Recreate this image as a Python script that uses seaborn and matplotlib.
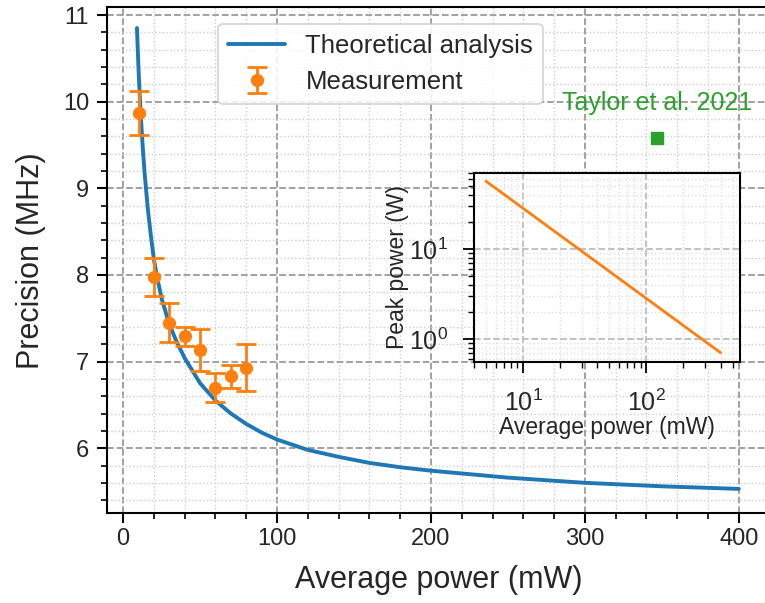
import numpy as np
import pandas as pd
import matplotlib
matplotlib.use("Agg")
import matplotlib.pyplot as plt
from matplotlib.ticker import MultipleLocator
import seaborn as sns

# Theoretical curve
theory_power = [9, 10, 11, 12, 13, 14, 16, 18, 20, 22, 25, 30, 35, 40, 50, 60, 70, 80,
                90, 100, 120, 140, 160, 180, 200, 250, 300, 350, 400]
theory_precision = [10.85, 10.38, 10.00, 9.69, 9.41, 9.17, 8.77, 8.46, 8.18, 7.98, 7.73,
                    7.43, 7.22, 7.04, 6.75, 6.55, 6.40, 6.28, 6.18, 6.10, 5.98, 5.90,
                    5.83, 5.78, 5.74, 5.66, 5.60, 5.56, 5.53]

# Measurements
meas_power = [10, 20, 30, 40, 50, 60, 70, 80]
meas_precision = [9.87, 7.98, 7.45, 7.29, 7.13, 6.70, 6.83, 6.93]
meas_err = [0.25, 0.22, 0.23, 0.11, 0.24, 0.17, 0.13, 0.27]

# Reference point
ref_label = "Taylor et al. 2021"
ref_power = [347]
ref_precision = [9.58]

# Inset: peak vs average power
inset_avg = [5, 10, 50, 100, 400]
inset_peak = [56.8, 28.4, 5.68, 2.84, 0.71]

BLUE = "#1f77b4"
ORANGE = "#ff7f0e"
GREEN = "#2ca02c"


def style_grid(ax, major_color, minor_color):
    ax.grid(True, which="major", linestyle="--", color=major_color, linewidth=1.3)
    ax.grid(True, which="minor", linestyle=":", color=minor_color, linewidth=1.0)
    ax.set_axisbelow(True)


def main():
    sns.set_theme(style="ticks")
    plt.rcParams["font.family"] = ["Liberation Sans", "DejaVu Sans"]

    fig = plt.figure(figsize=(7.65, 6.03), dpi=100)
    ax = fig.add_axes([0.140, 0.149, 0.866, 0.839])

    df = pd.DataFrame({"power": theory_power, "precision": theory_precision})
    sns.lineplot(data=df, x="power", y="precision", ax=ax, color=BLUE,
                 linewidth=2.8, label="Theoretical analysis")
    ax.errorbar(meas_power, meas_precision, yerr=meas_err, fmt="o", color=ORANGE,
                markersize=8.5, capsize=7, elinewidth=2, capthick=2,
                label="Measurement", zorder=3)

    ax.plot(ref_power, ref_precision, "s", color=GREEN, markersize=9)
    ax.text(ref_power[0], 9.98, ref_label, color=GREEN, fontsize=18,
            ha="center", va="center")

    ax.set_xlim(-10.4, 420)
    ax.set_ylim(5.25, 11.09)
    ax.set_xticks([0, 100, 200, 300, 400])
    ax.set_yticks([6, 7, 8, 9, 10, 11])
    ax.xaxis.set_minor_locator(MultipleLocator(20))
    ax.yaxis.set_minor_locator(MultipleLocator(0.2))
    ax.tick_params(which="major", direction="out", length=7, width=1.5,
                   labelsize=17, color="black", top=False, right=False)
    ax.tick_params(axis="y", which="major", pad=6)
    ax.tick_params(which="minor", direction="out", length=4, width=1.2,
                   color="black", top=False, right=False)
    for s in ax.spines.values():
        s.set_color("black")
        s.set_linewidth(1.5)
    style_grid(ax, "#9a9a9a", "#cfcfcf")

    ax.set_xlabel("Average power (mW)", fontsize=22, labelpad=11)
    ax.set_ylabel("Precision (MHz)", fontsize=22, labelpad=12)

    leg = ax.legend(loc="upper left", bbox_to_anchor=(0.285, 0.960),
                    bbox_transform=fig.transFigure, borderaxespad=0,
                    fontsize=18.5, frameon=True, fancybox=True, framealpha=0.85,
                    handlelength=2.2, labelspacing=0.45)
    leg.get_frame().set_edgecolor("#cccccc")
    leg.get_frame().set_linewidth(1.2)

    # Inset
    ax_in = fig.add_axes([0.6196, 0.3997, 0.3477, 0.3134])
    ax_in.set_facecolor("white")
    sns.lineplot(x=inset_avg, y=inset_peak, ax=ax_in, color=ORANGE, linewidth=2)
    ax_in.set_xscale("log")
    ax_in.set_yscale("log")
    ax_in.set_xlim(4.0, 575)
    ax_in.set_ylim(0.56, 70)
    ax_in.tick_params(which="major", direction="out", length=8, width=1.3,
                      labelsize=18, color="black")
    ax_in.tick_params(axis="x", which="major", pad=12)
    ax_in.tick_params(axis="y", which="major", pad=11)
    ax_in.tick_params(which="minor", direction="out", length=4.5, width=1.0,
                      color="black")
    for s in ax_in.spines.values():
        s.set_color("black")
        s.set_linewidth(1.5)
    style_grid(ax_in, "#bdbdbd", "#e0e0e0")
    ax_in.set_xlabel("Average power (mW)", fontsize=16.5, labelpad=0)
    ax_in.set_ylabel("Peak power (W)", fontsize=16.5, labelpad=0)

    fig.savefig("out.png", dpi=100)


if __name__ == "__main__":
    main()
